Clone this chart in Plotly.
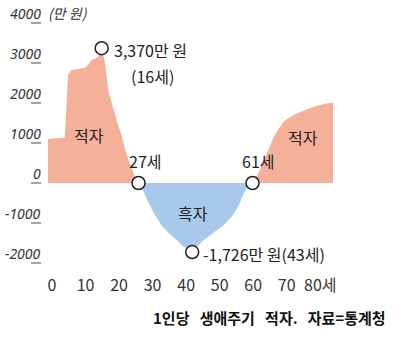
import plotly.graph_objects as go

# Per-capita lifecycle deficit by age (unit: 만 원)
ages = list(range(0, 86))
deficit = [
    1100, 1110, 1115, 1120, 1130, 1140, 2720, 2820, 2840, 2850,
    2860, 2880, 2950, 3080, 3100, 3160, 3370, 3000, 2300, 2000,
    1650, 1420, 1180, 840, 580, 340, 140, 0, -120, -330,
    -500, -660, -820, -940, -1080, -1160, -1250, -1330, -1400, -1490,
    -1565, -1620, -1680, -1726, -1620, -1530, -1460, -1390, -1330, -1260,
    -1200, -1140, -1080, -1000, -920, -820, -680, -540, -330, -160,
    -60, 0, 150, 290, 470, 680, 900, 1090, 1250, 1390,
    1500, 1580, 1640, 1690, 1730, 1770, 1810, 1840, 1870, 1900,
    1930, 1950, 1970, 1985, 2000, 2015,
]

# Highlighted points: peak deficit, turning points, peak surplus
key_ages = [16, 27, 43, 61]
key_values = [3370, 0, -1726, 0]

x_ticks = [0, 10, 20, 30, 40, 50, 60, 70, 80]
x_tick_text = ["0", "10", "20", "30", "40", "50", "60", "70", "80세"]
y_ticks = [4000, 3000, 2000, 1000, 0, -1000, -2000]
y_tick_text = ["4000", "3000", "2000", "1000", "0", "-1000", "-2000"]

SALMON = "#F5B09A"
BLUE = "#A9C9EA"
INK = "#222222"
FONT = "Noto Sans CJK KR"

positive = [max(v, 0) for v in deficit]
negative = [min(v, 0) for v in deficit]

fig = go.Figure()
fig.add_trace(go.Scatter(x=ages, y=positive, mode="lines", line=dict(width=0),
                         fill="tozeroy", fillcolor=SALMON, hoverinfo="skip"))
fig.add_trace(go.Scatter(x=ages, y=negative, mode="lines", line=dict(width=0),
                         fill="tozeroy", fillcolor=BLUE, hoverinfo="skip"))
fig.add_trace(go.Scatter(x=key_ages, y=key_values, mode="markers", cliponaxis=False,
                         marker=dict(size=13, color="white",
                                     line=dict(color=INK, width=1.5))))

annotations = []
# y tick labels (italic, sitting above a short dash)
for v, t in zip(y_ticks, y_tick_text):
    annotations.append(dict(x=-0.0175, xref="paper", y=v, yref="y", text=f"<i>{t}</i>",
                            showarrow=False, xanchor="right", yanchor="middle", yshift=10,
                            font=dict(family="Noto Sans, DejaVu Sans", size=14, color="#333")))
annotations.append(dict(x=-0.006, xref="paper", y=4000, yref="y", text="<i>(만 원)</i>",
                        showarrow=False, xanchor="left", yanchor="middle", yshift=10,
                        font=dict(family=FONT, size=14, color="#333")))

text_font = dict(family=FONT, size=16, color=INK)
annotations += [
    dict(x=16, y=3370, text="3,370만 원", xanchor="left", xshift=10, yshift=-2),
    dict(x=16, y=3370, text="(16세)", xanchor="center", xshift=51, yshift=-28),
    dict(x=12.2, y=1210, text="적자"),
    dict(x=28.8, y=550, text="27세"),
    dict(x=62.6, y=540, text="61세"),
    dict(x=76.1, y=1140, text="적자"),
    dict(x=43.1, y=-750, text="흑자"),
    dict(x=43, y=-1726, text="-1,726만 원(43세)", xanchor="left", xshift=9, yshift=-2),
]
for a in annotations[-8:]:
    a.setdefault("xanchor", "center")
    a.update(showarrow=False, yanchor="middle", font=text_font)

annotations.append(dict(x=1.193, xref="paper", y=-0.18, yref="paper",
                        text="<b>1인당   생애주기   적자.   자료=통계청</b>",
                        showarrow=False, xanchor="right", yanchor="middle",
                        font=dict(family=FONT, size=15, color="#111")))

shapes = [dict(type="line", xref="paper", yref="y", x0=-0.0596, x1=-0.0246, y0=v, y1=v,
               line=dict(color="#666", width=1.2)) for v in y_ticks]

fig.update_layout(
    width=400, height=338,
    margin=dict(l=48, r=67, t=11, b=67),
    paper_bgcolor="white", plot_bgcolor="white",
    showlegend=False,
    annotations=annotations,
    shapes=shapes,
    xaxis=dict(range=[0, 85], tickvals=x_ticks, ticktext=x_tick_text,
               showgrid=False, zeroline=False, showline=False, ticks="",
               ticklabelshift=4, ticklabelstandoff=3,
               tickfont=dict(family=FONT, size=16, color="#333")),
    yaxis=dict(range=[-2200, 4300], showticklabels=False, showgrid=False,
               zeroline=False, showline=False, ticks=""),
)

fig.write_html("out.html")
